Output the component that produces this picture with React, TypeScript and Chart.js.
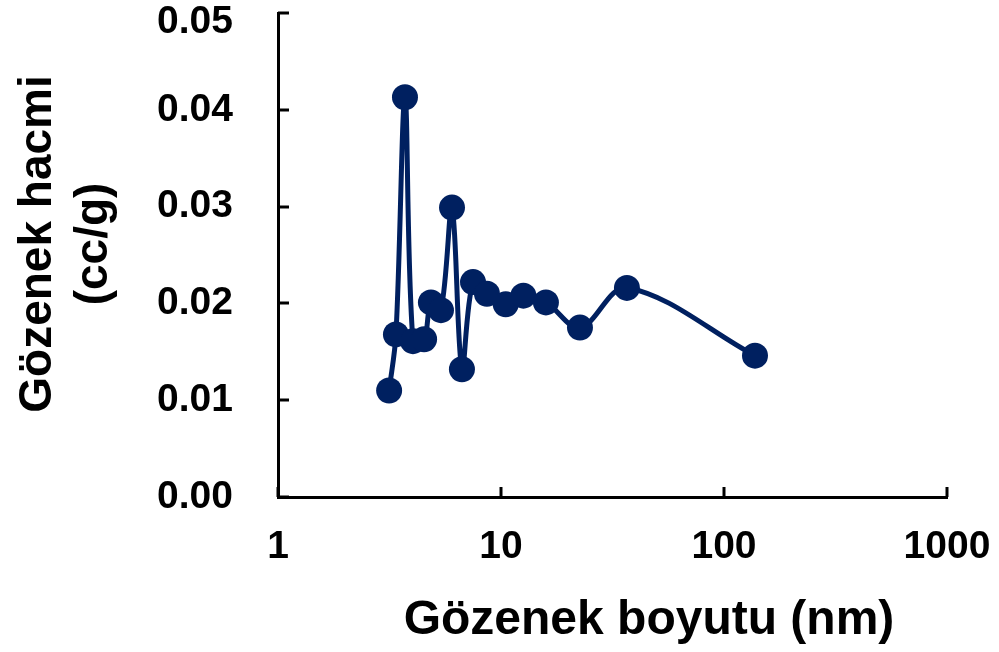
import React, { useEffect, useRef } from "react";
import { Chart, registerables } from "chart.js";

Chart.register(...registerables);

// Data
const poreSizeNm = [3.15, 3.38, 3.71, 4.03, 4.52, 4.85, 5.38, 6.03, 6.68, 7.49, 8.65, 10.5, 12.6, 15.9, 22.6, 36.7, 137.7];
const poreVolume = [0.011, 0.0168, 0.0413, 0.0161, 0.0163, 0.0201, 0.0193, 0.0299, 0.0132, 0.0222, 0.021, 0.0199, 0.0208, 0.0201, 0.0175, 0.0216, 0.0146];
const xTickValues = [1, 10, 100, 1000];
const yTickValues = [0, 0.01, 0.02, 0.03, 0.04, 0.05];
const xTitle = "Gözenek boyutu (nm)";
const yTitleLines = ["Gözenek hacmi", "(cc/g)"];

const FONT = "'Liberation Sans', Arial, sans-serif";
const NAVY = "#002060";
const Y_MAX = yTickValues[yTickValues.length - 1];
const fmtY = (v: number) => Number(v).toFixed(2);

const customPlugin = {
  id: "inwardTicksAndTitles",
  afterDraw(chart: any) {
    const ctx = chart.ctx as CanvasRenderingContext2D;
    const area = chart.chartArea;
    const xs = chart.scales.x;
    const ys = chart.scales.y;
    ctx.save();
    ctx.strokeStyle = "#000";
    ctx.lineWidth = 3;
    ys.ticks.forEach((t: any) => {
      const py = Math.round(ys.getPixelForValue(t.value));
      ctx.beginPath();
      ctx.moveTo(area.left, py);
      ctx.lineTo(area.left + 11, py);
      ctx.stroke();
    });
    xs.ticks.forEach((t: any) => {
      const px = Math.round(xs.getPixelForValue(t.value));
      ctx.beginPath();
      ctx.moveTo(px, area.bottom);
      ctx.lineTo(px, area.bottom - 10);
      ctx.stroke();
    });
    ctx.fillStyle = "#000";
    // top y tick label, kept inside the picture
    ctx.font = `bold 39px ${FONT}`;
    ctx.textAlign = "right";
    ctx.textBaseline = "middle";
    ctx.fillText(fmtY(Y_MAX), area.left - 45, ys.getPixelForValue(Y_MAX) + 9);
    // axis titles
    ctx.textAlign = "center";
    ctx.textBaseline = "alphabetic";
    ctx.font = `bold 48px ${FONT}`;
    ctx.fillText(xTitle, 649, 634);
    ctx.font = `bold 46px ${FONT}`;
    ctx.translate(0, 244);
    ctx.rotate(-Math.PI / 2);
    ctx.fillText(yTitleLines[0], 0, 51);
    ctx.fillText(yTitleLines[1], 0, 107);
    ctx.restore();
  },
};

export default function App() {
  const ref = useRef<HTMLCanvasElement>(null);
  useEffect(() => {
    if (!ref.current) return;
    const chart = new Chart(ref.current, {
      type: "line",
      data: {
        datasets: [
          {
            data: poreSizeNm.map((x, i) => ({ x, y: poreVolume[i] })),
            borderColor: NAVY,
            backgroundColor: NAVY,
            borderWidth: 5,
            pointRadius: 13,
            pointBorderWidth: 0,
            pointBackgroundColor: NAVY,
            tension: 0.35,
            fill: false,
          },
        ],
      },
      options: {
        responsive: false,
        animation: false,
        layout: { padding: { left: 0, right: 52, top: 8, bottom: 0 } },
        plugins: { legend: { display: false }, tooltip: { enabled: false }, title: { display: false } },
        scales: {
          x: {
            type: "logarithmic",
            min: 1,
            max: 1000,
            afterBuildTicks: (s: any) => {
              s.ticks = xTickValues.map((v) => ({ value: v }));
            },
            afterFit: (s: any) => {
              s.height = 155;
              s.paddingLeft = 0;
              s.paddingRight = 0;
            },
            grid: { display: false, drawTicks: false },
            border: { display: true, color: "#000", width: 3 },
            ticks: {
              color: "#000",
              font: { family: FONT, size: 39, weight: "bold" },
              padding: 27,
              maxRotation: 0,
              autoSkip: false,
              callback: (v: any) => String(v),
            },
          },
          y: {
            type: "linear",
            min: 0,
            max: Y_MAX,
            afterBuildTicks: (s: any) => {
              s.ticks = yTickValues.map((v) => ({ value: v }));
            },
            afterFit: (s: any) => {
              s.width = 278;
              s.paddingTop = 0;
              s.paddingBottom = 0;
            },
            grid: { display: false, drawTicks: false },
            border: { display: true, color: "#000", width: 3 },
            ticks: {
              color: (c: any) => (c.tick && c.tick.value === Y_MAX ? "rgba(0,0,0,0)" : "#000"),
              font: { family: FONT, size: 39, weight: "bold" },
              padding: 45,
              autoSkip: false,
              callback: (v: any) => fmtY(v),
            },
          },
        },
      },
      plugins: [customPlugin],
    } as any);
    return () => chart.destroy();
  }, []);
  return (
    <canvas
      ref={ref}
      width={999}
      height={652}
      style={{ position: "fixed", left: 0, top: 0, display: "block", background: "#fff" }}
    />
  );
}
